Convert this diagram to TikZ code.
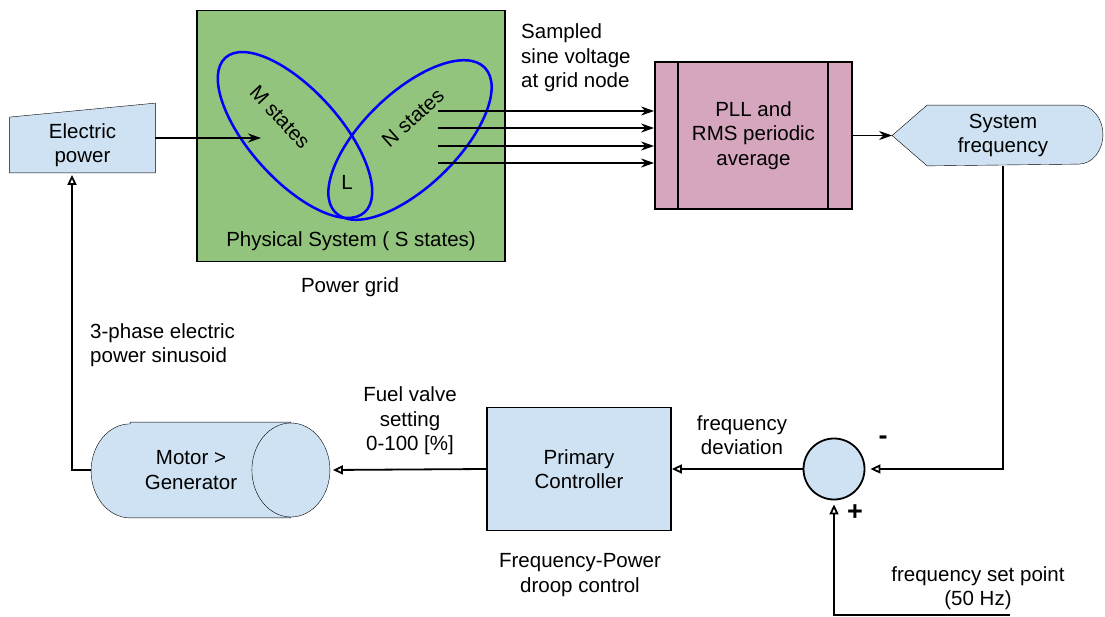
\documentclass[tikz,border=0pt]{standalone}
\usepackage{fontspec}
\setmainfont{Liberation Sans}
\usetikzlibrary{arrows.meta,positioning,shapes.geometric,backgrounds,calc}
\definecolor{boxblue}{RGB}{207,226,243}
\definecolor{gridgreen}{RGB}{147,196,125}
\definecolor{pllpink}{RGB}{213,166,189}

\begin{document}
\begin{tikzpicture}[x=1pt, y=-1pt, line width=1.8pt,
  every node/.style={font=\fontsize{20.5}{24.5}\selectfont, align=center},
  block/.style={draw, fill=boxblue, inner sep=0pt},
  ring/.style={draw=blue, line width=2.5pt, ellipse, inner sep=0pt},
  sign/.style={font=\fontsize{27}{30}\selectfont\bfseries},
  sig/.style={-{Stealth[length=13pt,width=9pt]}},
  fb/.style={-{Triangle[open,length=10pt,width=9pt]}}]

\useasboundingbox (0,0) rectangle (1105,617);

% power grid with the state sets
\node [draw, fill=gridgreen, minimum width=308pt, minimum height=251pt] (grid) at (351,136) {};
\node (phys) at (351,241) {Physical System ( S states)};
\node (gridname) at (350,287) {Power grid};

\node [ring, minimum width=208pt, minimum height=90pt, rotate=-48] (mset) at (295,135) {};
\node [ring, minimum width=208pt, minimum height=94pt, rotate=44] (nset) at (410,140) {};
\node [rotate=-47] (mlabel) at (280,117) {M states};
\node [rotate=42] (nlabel) at (413,118) {N states};
\node (llabel) at (347,182) {L};

% electric power input
\node [minimum width=144pt, minimum height=54pt, inner sep=0pt] (elec) at (82.5,145) {Electric\\power};
\begin{scope}[on background layer]
  \filldraw [fill=boxblue] (elec.south west) -- (elec.north west)
    -- ([yshift=14pt]elec.north east) -- (elec.south east) -- cycle;
\end{scope}
\coordinate (m-in) at (261,138);
\draw [sig] (m-in -| elec.east) -- (m-in);

% sampled voltages
\node [anchor=west, align=left] (sampled) at (517,58) {Sampled\\sine voltage\\at grid node};

\node [draw, fill=pllpink, minimum width=197pt, minimum height=147pt] (pll) at (753.5,135.5)
  {PLL and\\RMS periodic\\average};
\draw ([xshift=24pt]pll.north west) -- ([xshift=24pt]pll.south west);
\draw ([xshift=-25pt]pll.north east) -- ([xshift=-25pt]pll.south east);

\foreach \y [count=\i] in {111,128,146,163}
  \coordinate (tap-\i) at (438,\y);
\foreach \i in {1,...,4}
  \draw [sig] (tap-\i) -- (tap-\i -| pll.west);

% system frequency
\node [minimum width=150pt, minimum height=59pt, inner sep=0pt] (sysfreq) at (1003,135.5) {System\\frequency};
\coordinate (sf-tip) at ([xshift=-35pt]sysfreq.west);
\begin{scope}[on background layer]
  \filldraw [fill=boxblue] (sysfreq.north west) -- (sysfreq.north east)
    arc [start angle=90, end angle=-90, x radius=24pt, y radius=29.5pt]
    -- (sysfreq.south west) -- (sf-tip) -- cycle;
\end{scope}
\draw [sig] (pll.east) -- (sf-tip);

% feedback loop
\node [block, circle, minimum size=61pt] (sum) at (834,469) {};
\node [sign] (minus) at (883,440) {-};
\node [sign] (plus) at (855,513) {+};
\draw [fb, shorten >=5pt] (sysfreq.south) |- (sum.east);

\coordinate (setp) at (1010,615);
\draw [fb, shorten >=4pt] (setp) -| (sum.south);
\node (setlabel) at (978,588) {frequency set point\\(50 Hz)};

\node [block, minimum width=184pt, minimum height=123pt] (ctrl) at (579,469) {Primary\\Controller};
\draw [fb] (sum.west) -- (ctrl.east);
\node (devlabel) at (742,435) {frequency\\deviation};
\node (droop) at (580,575) {Frequency-Power\\droop control};

% motor / generator drum
\node [minimum width=198pt, minimum height=94pt, inner sep=0pt] (motor) at (191,470) {Motor >\\Generator};
\coordinate (motor-end) at ([xshift=39pt]motor.east);
\begin{scope}[on background layer]
  \filldraw [fill=boxblue] ([xshift=39pt]motor.north west) -- (motor.north east)
    -- (motor.south east) -- ([xshift=39pt]motor.south west)
    arc [start angle=270, end angle=90, x radius=39pt, y radius=47pt] -- cycle;
  \filldraw [fill=boxblue] (motor.east) ellipse [x radius=39pt, y radius=47pt];
\end{scope}
\draw [fb, shorten >=3pt] (ctrl.west) -- (motor-end);
\node (fuel) at (410,421) {Fuel valve\\setting\\0-100 [\%]};

\draw [fb, shorten >=2pt] (motor.west) -| ([xshift=-10.5pt]elec.south);
\node [anchor=west, align=left] (phase) at (86,345) {3-phase electric\\power sinusoid};

\end{tikzpicture}
\end{document}
